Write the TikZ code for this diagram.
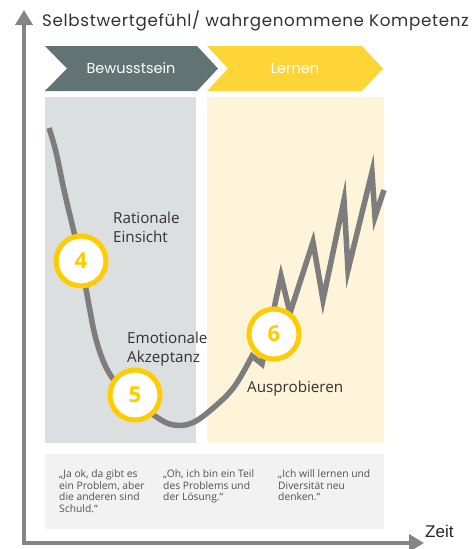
\documentclass[tikz,border=0pt]{standalone}
\usepackage{fontspec}
\setmainfont{Open Sans}
\newfontfamily\headfont[LetterSpace=4]{Poppins}
\newfontfamily\phasefont{Poppins}
\newfontfamily\axisfont{Liberation Sans}
\usetikzlibrary{arrows.meta}

\definecolor{axisgrey}{RGB}{133,133,133}
\definecolor{curvegrey}{RGB}{125,125,125}
\definecolor{slate}{RGB}{98,115,115}
\definecolor{sun}{RGB}{253,213,55}
\definecolor{greypanel}{RGB}{220,223,224}
\definecolor{yellowpanel}{RGB}{254,244,217}
\definecolor{quotebg}{RGB}{242,242,242}
\definecolor{ring}{RGB}{255,204,0}
\definecolor{darktext}{RGB}{50,50,50}
\definecolor{quotegrey}{RGB}{80,80,80}

\tikzstyle{axis} = [line width=4pt, draw=axisgrey, line join=miter, {Triangle[length=15pt,width=17pt]}-{Triangle[length=15pt,width=17pt]}]
\tikzstyle{phase} = [text=white, font=\phasefont\fontsize{14.5}{17}\selectfont]
\tikzstyle{stepcircle} = [circle, draw=ring, line width=5pt, fill=white, minimum size=50pt, inner sep=0pt, text=ring, font=\bfseries\fontsize{22}{26}\selectfont]
\tikzstyle{stagetext} = [anchor=north west, inner sep=0pt, align=left, text=darktext, font=\fontsize{15.2}{19}\selectfont]
\tikzstyle{quotetext} = [anchor=north west, inner sep=0pt, align=left, text=quotegrey, font=\fontsize{10.3}{11.7}\selectfont]
\tikzstyle{mood} = [line width=5.5pt, draw=curvegrey, line join=miter, miter limit=10]

\begin{document}
\begin{tikzpicture}[x=1pt, y=-1pt]
\useasboundingbox (0,0) rectangle (472,549);

% Panels behind the curve
\fill[greypanel] (45,97) rectangle (196,443);
\fill[yellowpanel] (207,97) rectangle (384,443);
\fill[quotebg] (45,454) rectangle (384,529);

% Phase chevrons
\fill[slate] (45,46) -- (197,46) -- (218,68.5) -- (197,91) -- (45,91) -- (67,68.5) -- cycle;
\fill[sun] (207,46) -- (362,46) -- (383,68.5) -- (362,91) -- (207,91) -- (228,68.5) -- cycle;
\node (bewusst) [phase] at (131,68.5) {Bewusstsein};
\node (lernen) [phase] at (295,68.5) {Lernen};

% Axes
\coordinate (ytop) at (24,10);
\coordinate (origin) at (24,543);
\coordinate (xend) at (424,543);
\draw [axis] (ytop) -- (origin) -- (xend);
\node (ylabel) [anchor=base west, inner sep=0pt, text=darktext, font=\headfont\fontsize{16.7}{19}\selectfont] at (42,26) {Selbstwertgefühl/ wahrgenommene Kompetenz};
\node (xlabel) [anchor=base west, inner sep=0pt, text=black!85, font=\axisfont\fontsize{17}{20}\selectfont] at (425,537) {Zeit};

% Curve
\draw [mood] plot [smooth, tension=0.6] coordinates {(49,128) (56,152) (64,190) (73,228) (81,261) (88,300) (97,343) (111,376) (135,400) (158,418) (174,425) (192,423) (212,409) (234,387) (252,356)}
  -- (262,364) -- (281,276) -- (290,313) -- (313,242) -- (323,300) -- (344,200) -- (348,270) -- (372,172) -- (375,217) -- (384,190);

% Stages
\node (stage4) [stepcircle] at (81,261) {4};
\node (stage5) [stepcircle] at (135,395) {5};
\node (stage6) [stepcircle] at (274,334) {6};
\node (rational) [stagetext] at (113,212) {Rationale\\Einsicht};
\node (emotional) [stagetext] at (127,332) {Emotionale\\Akzeptanz};
\node (tryout) [stagetext] at (247,381) {Ausprobieren};

% Quotes
\node (quoteA) [quotetext] at (59,469.5) {„Ja ok, da gibt es\\ein Problem, aber\\die anderen sind\\Schuld.“};
\node (quoteB) [quotetext] at (163,469.5) {„Oh, ich bin ein Teil\\des Problems und\\der Lösung.“};
\node (quoteC) [quotetext] at (278,469.5) {„Ich will lernen und\\Diversität neu\\denken.“};

\end{tikzpicture}
\end{document}
